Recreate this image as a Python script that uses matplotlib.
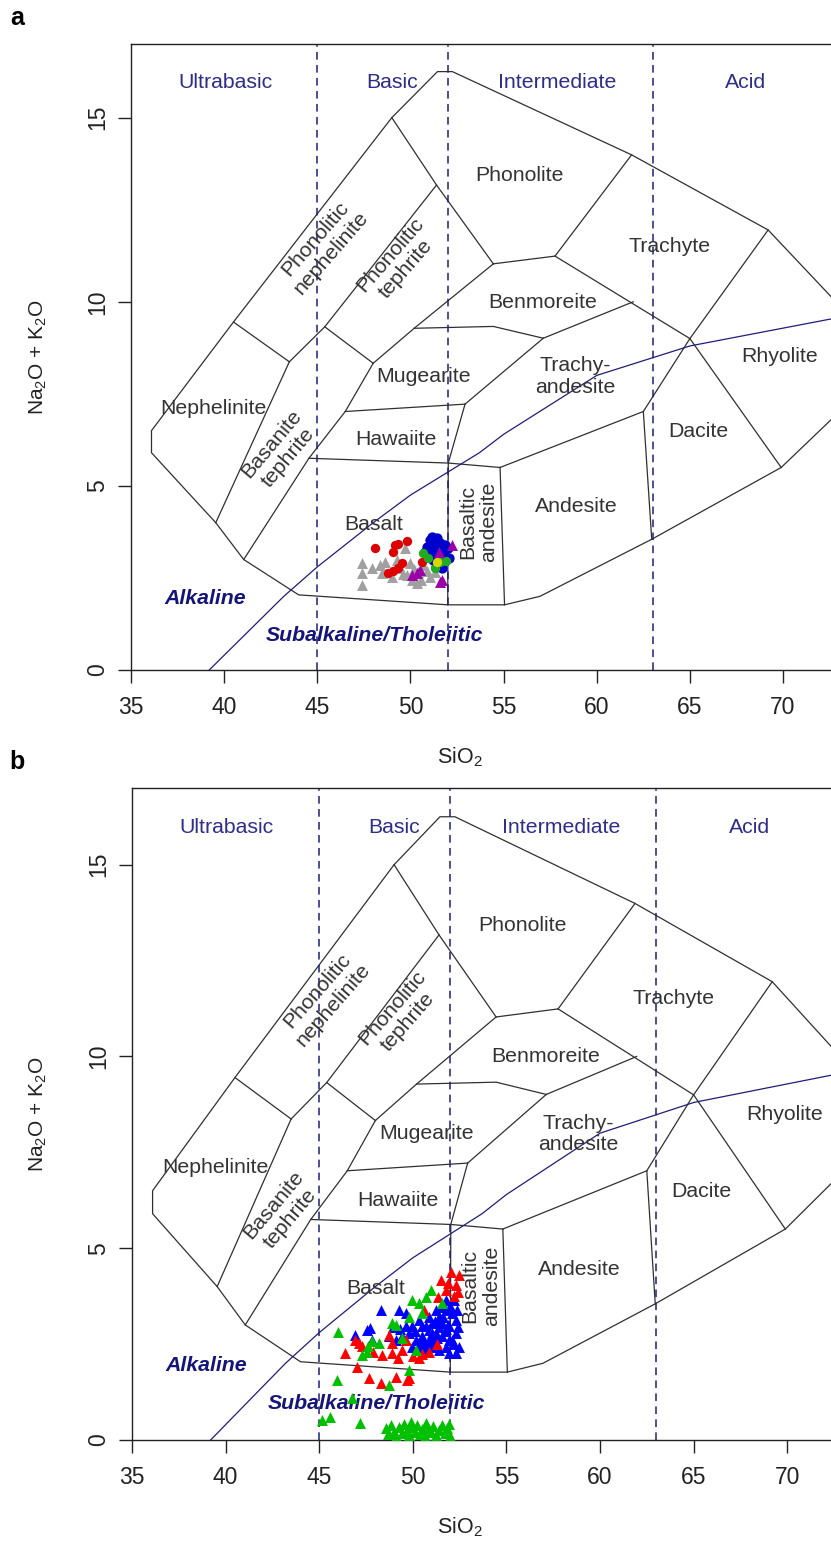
import numpy as np
import matplotlib
matplotlib.use("Agg")
import matplotlib.pyplot as plt

plt.rcParams['font.family'] = ['Liberation Sans', 'DejaVu Sans']
plt.rcParams['mathtext.fontset'] = 'custom'
plt.rcParams['mathtext.rm'] = 'Liberation Sans'
plt.rcParams['mathtext.it'] = 'Liberation Sans:italic'
plt.rcParams['mathtext.bf'] = 'Liberation Sans:bold'

AXSIZE = 16.5

# ---------------- TAS template (Cox et al. 1979) ----------------
outer_x = [75.0, 69.9, 62.95, 56.95, 55.05, 52.0, 44.0, 41.05, 39.55, 36.1, 36.1, 40.5, 49.0, 51.45, 52.25, 61.87, 69.2, 75.0]
outer_y = [7.97, 5.5, 3.55, 2.0, 1.77, 1.77, 2.04, 3.0, 4.0, 5.9, 6.5, 9.45, 15.0, 16.25, 16.25, 13.99, 11.95, 8.84]

inner_lines = [
    ([40.5, 43.5], [9.45, 8.37]),                  # nephelinite top
    ([43.5, 39.55], [8.37, 4.0]),                  # nephelinite / basanite
    ([43.5, 45.4, 51.4], [8.37, 9.32, 13.17]),     # phon. nephelinite / tephrite
    ([49.0, 51.4, 54.45], [15.0, 13.17, 11.03]),   # phonolite left
    ([41.05, 44.55, 46.5, 48.0], [3.0, 5.75, 7.02, 8.33]),  # basanite right
    ([45.4, 48.0], [9.32, 8.33]),                  # basanite top
    ([48.0, 50.2, 54.45], [8.33, 9.28, 11.03]),    # phon. tephrite right
    ([50.2, 54.45, 57.13], [9.28, 9.33, 9.01]),    # benmoreite bottom
    ([54.45, 57.76], [11.03, 11.24]),              # phonolite bottom
    ([57.76, 65.0], [11.24, 9.0]),                 # trachyte bottom
    ([57.13, 61.96], [9.01, 10.0]),                # benmoreite right
    ([52.93, 57.13], [7.22, 9.01]),                # mugearite right
    ([46.5, 52.93], [7.02, 7.22]),                 # hawaiite top
    ([52.93, 52.03], [7.22, 5.62]),                # hawaiite right
    ([44.55, 52.03, 54.81], [5.75, 5.62, 5.5]),    # basalt top
    ([54.81, 62.5], [5.5, 7.02]),                  # trachyandesite bottom
    ([62.5, 65.0, 69.2], [7.02, 9.0, 11.95]),      # trachyte/rhyolite
    ([57.76, 61.87], [11.24, 13.99]),              # phonolite/trachyte
    ([65.0, 69.9], [9.0, 5.5]),                    # rhyolite/dacite
    ([62.5, 62.95], [7.02, 3.55]),                 # andesite/dacite
    ([52.03, 52.0], [5.62, 1.77]),                 # basaltic andesite left
    ([54.81, 55.05], [5.5, 1.77]),                 # basaltic andesite right
]

# Irvine & Baragar (1971) alkaline / subalkaline divide
ib_x = [39.2, 40, 43.2, 45, 48, 50, 53.7, 55, 60, 65, 77.4]
ib_y = [0, 0.4, 2, 2.8, 4, 4.75, 5.9, 6.4, 8, 8.8, 10]

division_x = [45, 52, 63]
division_names = ["Ultrabasic", "Basic", "Intermediate", "Acid"]
division_name_x = [40.05, 48.99, 57.9, 68.0]

field_names = ["Phonolite", "Trachyte", "Phonolitic\nnephelinite", "Phonolitic\ntephrite",
               "Benmoreite", "Mugearite", "Trachy-\nandesite", "Rhyolite", "Nephelinite",
               "Basanite\ntephrite", "Hawaiite", "Dacite", "Basalt", "Basaltic\nandesite",
               "Andesite"]
field_x = [55.88, 63.93, 45.31, 49.33, 57.11, 50.73, 58.83, 69.84, 39.45, 43.0, 49.2, 65.44, 48.0, 53.63, 58.92]
field_y = [13.42, 11.5, 11.52, 11.08, 9.99, 7.98, 7.97, 8.5, 7.1, 5.95, 6.25, 6.47, 3.94, 4.02, 4.44]
field_rot = [0, 0, 49, 49, 0, 0, 0, 0, 0, 50, 0, 0, 0, 90, 0]

xticks = [35, 40, 45, 50, 55, 60, 65, 70]
yticks = [0, 5, 10, 15]

# ---------------- data, panel a ----------------
grey_a_x = [47.38, 47.38, 47.38, 48.37, 48.63, 48.46, 49.71, 49.44, 49.80, 50.07, 50.34, 49.98, 50.42,
            50.69, 51.05, 49.26, 48.99, 47.92, 50.2, 50.9, 49.6, 50.55, 51.3]
grey_a_y = [2.90, 2.63, 2.31, 2.85, 2.94, 2.63, 3.30, 2.76, 2.58, 2.44, 2.35, 2.90, 2.67,
            2.85, 2.53, 2.99, 2.53, 2.76, 2.75, 2.70, 2.60, 2.45, 2.65]
red_a_x = [48.10, 49.17, 49.08, 49.80, 49.53, 49.35, 49.08, 48.81, 50.60, 49.35]
red_a_y = [3.32, 3.39, 3.21, 3.51, 2.91, 2.76, 2.70, 2.63, 2.94, 3.42]
blue_a_x = [51.05, 51.41, 51.59, 50.87, 51.23, 51.77, 51.95, 51.50, 51.23, 52.03, 50.96, 51.68, 51.3, 51.6,
            51.15, 51.85, 51.45, 50.8, 51.7, 52.05, 51.35]
blue_a_y = [3.53, 3.58, 3.44, 3.35, 3.26, 3.17, 3.03, 2.90, 2.99, 3.30, 3.12, 2.76, 3.45, 3.30,
            3.62, 3.40, 3.10, 3.20, 2.95, 3.05, 2.80]
green_a_x = [50.69, 51.32, 51.59, 51.91, 50.95]
green_a_y = [3.19, 2.76, 2.92, 2.95, 3.05]
purple_a_x = [50.07, 51.59, 52.21, 51.55, 50.51, 51.68, 50.34]
purple_a_y = [2.58, 2.40, 3.39, 3.21, 2.72, 2.44, 2.63]
yellow_a_x = [51.41]
yellow_a_y = [2.94]

# ---------------- data, panel b ----------------
blue_b_x = [48.28, 49.26, 49.62, 49.98, 50.33, 50.69, 51.05, 51.41, 51.76, 52.12,
            51.5, 51.94, 51.58, 51.23, 50.87, 50.51, 50.15, 49.8, 49.44, 49.08,
            48.72, 47.74, 47.83, 52.12, 51.76, 51.41, 51.05, 51.94, 52.3, 52.3,
            50.87, 50.33, 49.98, 50.69, 51.23, 52.21, 51.76, 51.23, 50.87, 51.58,
            49.62, 52.3, 51.94, 50.51, 51.05, 52.48,
            47.56, 46.93, 50.1, 50.6, 51.0, 51.4, 51.8, 52.0, 49.3, 48.95,
            51.2, 51.6, 52.4, 50.4, 51.9, 52.2, 50.8, 51.3, 51.7, 52.35]
blue_b_y = [3.39, 3.39, 3.30, 2.96, 3.13, 2.96, 3.04, 3.22, 3.39, 3.30,
            3.48, 2.96, 2.70, 2.52, 2.61, 2.70, 2.61, 2.78, 2.70, 2.61,
            2.70, 2.91, 2.61, 2.61, 2.43, 2.35, 2.43, 2.26, 2.26, 2.78,
            2.87, 2.43, 2.43, 2.35, 2.78, 3.65, 3.65, 3.39, 3.22, 3.04,
            2.96, 3.13, 2.61, 2.96, 2.70, 2.43,
            2.87, 2.74, 2.85, 2.50, 2.80, 2.95, 2.90, 3.50, 2.90, 2.95,
            3.10, 3.20, 2.95, 2.55, 3.00, 2.50, 2.45, 2.65, 2.85, 3.40]
red_b_x = [51.5, 52.03, 52.48, 52.3, 51.77, 52.39, 51.32, 51.9, 52.2, 50.6,
           46.40, 47.02, 47.65, 48.28, 49.08, 49.80, 47.11, 48.37, 48.90, 49.44,
           50.33, 50.87, 49.62, 48.72, 48.90, 47.9, 49.2, 50.0, 46.93, 47.3,
           49.71, 51.3, 50.5]
red_b_y = [4.17, 4.39, 4.30, 4.04, 3.91, 3.87, 3.74, 4.10, 3.75, 3.39,
           2.26, 1.91, 1.61, 1.48, 1.65, 1.61, 2.52, 2.22, 2.26, 2.35,
           2.13, 2.30, 2.61, 2.74, 2.52, 2.30, 2.15, 2.20, 2.61, 2.45,
           1.56, 2.50, 2.25]
green_b_x = [46.02, 47.83, 47.56, 47.29, 48.18, 49.08, 49.44, 50.15, 49.8, 48.72, 45.95, 46.76,
             47.2, 45.15, 45.59, 49.98, 50.33, 50.69, 50.96, 51.58, 49.8, 50.5, 48.9, 47.6]
green_b_y = [2.82, 2.57, 2.30, 2.22, 2.52, 3.00, 2.65, 2.35, 1.83, 1.43, 1.56, 1.09,
             0.44, 0.52, 0.61, 3.65, 3.56, 3.74, 3.91, 3.56, 3.20, 3.30, 3.05, 2.45]
green_b_low_x = [48.55, 48.7, 48.85, 49.0, 49.1, 49.25, 49.4, 49.55, 49.7, 49.8, 49.95, 50.1, 50.25, 50.4,
                 50.5, 50.65, 50.8, 50.95, 51.1, 51.25, 51.4, 51.55, 51.7, 51.85, 52.0, 51.95, 49.9, 50.7]
green_b_low_y = [0.30, 0.15, 0.40, 0.22, 0.10, 0.35, 0.18, 0.42, 0.25, 0.12, 0.33, 0.20, 0.38, 0.15,
                 0.28, 0.10, 0.32, 0.20, 0.36, 0.12, 0.25, 0.40, 0.18, 0.30, 0.10, 0.42, 0.48, 0.45]

NAVY = '#1e1e78'
LINE = '#303030'
TXT = '#333333'
FS = 15.3

W, H = 831, 1548
fig = plt.figure(figsize=(W / 100, H / 100), dpi=100)


def draw_template(ax, xmax):
    ax.plot(outer_x, outer_y, color=LINE, lw=0.9, zorder=2)
    for xs, ys in inner_lines:
        ax.plot(xs, ys, color=LINE, lw=0.9, zorder=2)
    ax.plot(ib_x, ib_y, color=NAVY, lw=0.9, zorder=2)
    for dx in division_x:
        ax.plot([dx, dx], [0, 17], color=NAVY, lw=1.1, ls=(0, (5, 3.5)), zorder=2)
    for nm, nx in zip(division_names, division_name_x):
        ax.text(nx, 15.96, nm, color='#2e2e8a', fontsize=FS, ha='center', va='center')
    for nm, fx, fy, r in zip(field_names, field_x, field_y, field_rot):
        ax.text(fx, fy, nm, color=TXT, fontsize=FS, ha='center', va='center',
                rotation=r, linespacing=1.15)
    ax.text(38.97, 1.95, "Alkaline", color='#14147a', fontsize=FS, ha='center', va='center',
            fontweight='bold', fontstyle='italic')
    ax.text(48.08, 0.95, "Subalkaline/Tholeiitic", color='#14147a', fontsize=FS, ha='center',
            va='center', fontweight='bold', fontstyle='italic')
    ax.set_xlim(35, xmax)
    ax.set_ylim(0, 17.0)
    ax.spines['right'].set_visible(False)
    for sp in ['top', 'left', 'bottom']:
        ax.spines[sp].set_linewidth(1.0)
        ax.spines[sp].set_color('#222222')
    ax.set_xticks(xticks)
    ax.set_xticklabels([str(t) for t in xticks], fontsize=AXSIZE)
    ax.set_yticks(yticks)
    ax.set_yticklabels([str(t) for t in yticks], rotation=90, va='center', fontsize=AXSIZE)
    ax.tick_params(axis='both', direction='out', length=9.5, width=1.0, color='#222222',
                   labelcolor='#222222')
    ax.tick_params(axis='x', pad=9)
    ax.tick_params(axis='y', pad=6)


ax_a = fig.add_axes([131 / W, 1 - 670 / H, 700 / W, 626 / H])
draw_template(ax_a, 35 + 700 / 18.63)
ax_a.scatter(grey_a_x, grey_a_y, marker='^', s=62, color='#a0a0a0', linewidths=0, zorder=3)
ax_a.scatter(red_a_x, red_a_y, marker='o', s=45, color='#dd0000', linewidths=0, zorder=4)
ax_a.scatter(blue_a_x, blue_a_y, marker='o', s=55, color='#0000cc', linewidths=0, zorder=5)
ax_a.scatter(green_a_x, green_a_y, marker='o', s=45, color='#22aa22', linewidths=0, zorder=6)
ax_a.scatter(purple_a_x, purple_a_y, marker='^', s=62, color='#9c00a8', linewidths=0, zorder=7)
ax_a.scatter(yellow_a_x, yellow_a_y, marker='o', s=45, color='#d8d800', linewidths=0, zorder=8)

ax_b = fig.add_axes([132 / W, 1 - 1440 / H, 699 / W, 652 / H])
draw_template(ax_b, 35 + 699 / 18.72)
ax_b.scatter(blue_b_x, blue_b_y, marker='^', s=62, color='#0000ff', linewidths=0, zorder=3)
ax_b.scatter(red_b_x, red_b_y, marker='^', s=62, color='#ff0000', linewidths=0, zorder=4)
ax_b.scatter(green_b_x, green_b_y, marker='^', s=62, color='#00c000', linewidths=0, zorder=5)
ax_b.scatter(green_b_low_x, green_b_low_y, marker='^', s=62, color='#00c000', linewidths=0, zorder=5)

for ytop, ybot, lab in [(44, 670, 'a'), (788, 1440, 'b')]:
    fig.text(38 / W, 1 - (ytop + ybot) / 2 / H, r'Na$_2$O + K$_2$O', rotation=90,
             ha='center', va='center', fontsize=15, color='#222222')
    fig.text(460 / W, 1 - (ybot + 87) / H, r'SiO$_2$', ha='center', va='center',
             fontsize=15.5, color='#222222')
    fig.text(17 / W, 1 - (ytop - 26) / H, lab, ha='center', va='center', fontsize=18,
             fontweight='bold', color='black')

fig.savefig('out.png', dpi=100, facecolor='white')
